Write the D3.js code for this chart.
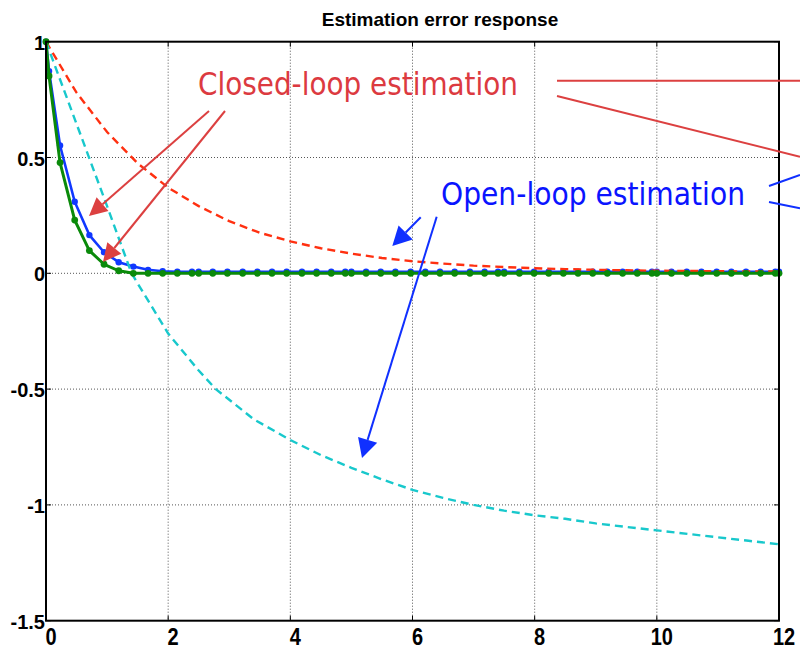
<!DOCTYPE html>
<html>
<head>
<meta charset="utf-8">
<script src="https://cdn.jsdelivr.net/npm/d3@7"></script>
<style>
  html, body { margin: 0; padding: 0; background: #fff; }
  svg { display: block; }
</style>
</head>
<body>
<svg id="chart" width="800" height="649"></svg>
<script>
// Sample times of the two simulated estimators (solid lines with markers)
const simT = [0, 0.05, 0.23, 0.47, 0.71, 0.95, 1.19, 1.43, 1.67, 1.91, 2.15, 2.39, 2.5,
  2.73, 2.97, 3.22, 3.46, 3.70, 3.94, 4.19, 4.43, 4.67, 4.90, 5.0,
  5.24, 5.48, 5.72, 5.97, 6.21, 6.45, 6.69, 6.94, 7.18, 7.40, 7.5,
  7.75, 7.99, 8.23, 8.47, 8.71, 8.95, 9.19, 9.44, 9.68, 9.92, 10.0,
  10.24, 10.49, 10.73, 10.98, 11.22, 11.46, 11.70, 11.94, 12.0];

const blueErr = [1, 0.873, 0.552, 0.309, 0.165, 0.091, 0.048, 0.029, 0.015, 0.009, 0.007, 0.007, 0.007,
  0.007, 0.007, 0.007, 0.007, 0.007, 0.007, 0.007, 0.007, 0.007, 0.007, 0.007,
  0.007, 0.007, 0.007, 0.007, 0.007, 0.007, 0.007, 0.007, 0.007, 0.007, 0.007,
  0.007, 0.007, 0.007, 0.007, 0.007, 0.007, 0.007, 0.007, 0.007, 0.007, 0.007,
  0.007, 0.007, 0.007, 0.007, 0.007, 0.007, 0.007, 0.007, 0.007];

const greenErr = [1, 0.852, 0.478, 0.230, 0.098, 0.039, 0.011, 0, 0, 0, 0, 0, 0,
  0, 0, 0, 0, 0, 0, 0, 0, 0, 0, 0,
  0, 0, 0, 0, 0, 0, 0, 0, 0, 0, 0,
  0, 0, 0, 0, 0, 0, 0, 0, 0, 0, 0,
  0, 0, 0, 0, 0, 0, 0, 0, 0];

// Dashed responses
const redT = [0, 0.5, 1, 1.5, 2, 2.5, 3, 3.5, 4, 4.5, 5, 5.5, 6, 6.5, 7, 7.5, 8, 8.5, 9, 9.5, 10, 10.5, 11, 11.5, 12];
const redErr = [1, 0.78, 0.61, 0.475, 0.37, 0.29, 0.225, 0.175, 0.138, 0.108, 0.085, 0.066, 0.052,
  0.042, 0.033, 0.027, 0.022, 0.018, 0.015, 0.013, 0.011, 0.010, 0.009, 0.008, 0.008];

const cyanT = [0, 0.5, 1, 1.4, 2, 2.5, 2.78, 3.4, 4, 4.5, 5, 5.5, 6, 6.5, 7, 7.5, 8, 8.5, 9, 9.5, 10, 10.5, 11, 11.5, 12];
const cyanErr = [1, 0.645, 0.29, 0, -0.26, -0.42, -0.5, -0.63, -0.72, -0.785, -0.84, -0.89, -0.935,
  -0.97, -1.0, -1.025, -1.045, -1.06, -1.08, -1.095, -1.11, -1.125, -1.14, -1.155, -1.17];

const xTicks = [0, 2, 4, 6, 8, 10, 12];
const yTicks = [-1.5, -1, -0.5, 0, 0.5, 1];
const yTickLabels = ["-1.5", "-1", "-0.5", "0", "0.5", "1"];
const title = "Estimation error response";

const svg = d3.select("#chart");
const plotL = 46, plotR = 779, plotT = 41.7, plotB = 620.7;
const x = d3.scaleLinear().domain([0, 12]).range([plotL, plotR]);
const y = d3.scaleLinear().domain([-1.5, 1]).range([plotB, plotT]);

// Grid (dotted)
const grid = svg.append("g");
grid.selectAll("line.gx").data(xTicks.filter(d => d > 0 && d < 12)).join("line")
  .attr("x1", d => x(d)).attr("x2", d => x(d)).attr("y1", plotT).attr("y2", plotB)
  .attr("stroke", "#555").attr("stroke-width", 1).attr("stroke-dasharray", "1,2");
grid.selectAll("line.gy").data(yTicks.filter(d => d > -1.5 && d < 1)).join("line")
  .attr("y1", d => y(d)).attr("y2", d => y(d)).attr("x1", plotL).attr("x2", plotR)
  .attr("stroke", "#555").attr("stroke-width", 1).attr("stroke-dasharray", "1,2");

// Inward tick marks on all sides
const tickLen = 5;
const ticks = svg.append("g").attr("stroke", "#000").attr("stroke-width", 1);
xTicks.forEach(d => {
  ticks.append("line").attr("x1", x(d)).attr("x2", x(d)).attr("y1", plotB).attr("y2", plotB - tickLen);
  ticks.append("line").attr("x1", x(d)).attr("x2", x(d)).attr("y1", plotT).attr("y2", plotT + tickLen);
});
yTicks.forEach(d => {
  ticks.append("line").attr("y1", y(d)).attr("y2", y(d)).attr("x1", plotL).attr("x2", plotL + tickLen);
  ticks.append("line").attr("y1", y(d)).attr("y2", y(d)).attr("x1", plotR).attr("x2", plotR - tickLen);
});

// Data lines
const lineGen = (ts, vs) => d3.line().x((d, i) => x(ts[i])).y(d => y(d))(vs);

const plot = svg.append("g");
plot.append("path").attr("d", lineGen(simT, blueErr))
  .attr("fill", "none").attr("stroke", "#1038ff").attr("stroke-width", 2.6).attr("stroke-linejoin", "round");
plot.selectAll("circle.b").data(blueErr).join("circle")
  .attr("cx", (d, i) => x(simT[i])).attr("cy", d => y(d)).attr("r", 3.2).attr("fill", "#1038ff");

plot.append("path").attr("d", lineGen(redT, redErr))
  .attr("fill", "none").attr("stroke", "#ff3010").attr("stroke-width", 2.4).attr("stroke-dasharray", "8,5");

plot.append("path").attr("d", lineGen(cyanT, cyanErr))
  .attr("fill", "none").attr("stroke", "#18c8cc").attr("stroke-width", 2.4).attr("stroke-dasharray", "8,5");

plot.append("path").attr("d", lineGen(simT, greenErr))
  .attr("fill", "none").attr("stroke", "#0a8a0a").attr("stroke-width", 3).attr("stroke-linejoin", "round");
plot.selectAll("circle.g").data(greenErr).join("circle")
  .attr("cx", (d, i) => x(simT[i])).attr("cy", d => y(d)).attr("r", 3.4).attr("fill", "#0a8a0a");

// Axes box
svg.append("rect").attr("x", plotL).attr("y", plotT).attr("width", plotR - plotL).attr("height", plotB - plotT)
  .attr("fill", "none").attr("stroke", "#000").attr("stroke-width", 2);

// Tick labels
const font = "'Liberation Sans', Arial, Helvetica, sans-serif";
svg.append("g").selectAll("text").data(yTicks).join("text")
  .attr("x", plotL - 1).attr("y", d => y(d) + 8)
  .attr("text-anchor", "end").attr("font-family", font).attr("font-weight", "bold")
  .attr("font-size", 20).text((d, i) => yTickLabels[i]);

svg.append("g").selectAll("text").data(xTicks).join("text")
  .attr("transform", d => `translate(${x(d) + 5},645) scale(1,1.22)`)
  .attr("text-anchor", "middle").attr("font-family", font).attr("font-weight", "bold")
  .attr("font-size", 20).text(d => d);

// Title
svg.append("text").attr("x", 440).attr("y", 26).attr("text-anchor", "middle")
  .attr("font-family", font).attr("font-weight", "bold").attr("font-size", 19).text(title);

// Annotations
const annoFont = "'DejaVu Sans', Verdana, Tahoma, sans-serif";
const redC = "#dc3a40", blueC = "#0a14ff";

function arrow(g, x1, y1, x2, y2, color, head, half) {
  const ang = Math.atan2(y2 - y1, x2 - x1);
  const bx = x2 - head * Math.cos(ang), by = y2 - head * Math.sin(ang);
  g.append("line").attr("x1", x1).attr("y1", y1).attr("x2", bx).attr("y2", by)
    .attr("stroke", color).attr("stroke-width", 2);
  const px = -Math.sin(ang) * half, py = Math.cos(ang) * half;
  g.append("path").attr("d", `M${x2},${y2}L${bx + px},${by + py}L${bx - px},${by - py}Z`).attr("fill", color);
}

const anno = svg.append("g");
anno.append("text").attr("x", 198).attr("y", 95).attr("fill", redC)
  .attr("font-family", annoFont).attr("font-size", 32)
  .attr("textLength", 320).attr("lengthAdjust", "spacingAndGlyphs").text("Closed-loop estimation");
arrow(anno, 209, 111, 89, 216, "#dc4040", 18, 9);
arrow(anno, 225, 111, 103, 262, "#dc4040", 18, 9);
anno.append("line").attr("x1", 557).attr("y1", 80.7).attr("x2", 800).attr("y2", 80.7).attr("stroke", "#dc4040").attr("stroke-width", 2);
anno.append("line").attr("x1", 557).attr("y1", 96).attr("x2", 800).attr("y2", 156.7).attr("stroke", "#dc4040").attr("stroke-width", 2);

anno.append("text").attr("x", 441).attr("y", 205).attr("fill", blueC)
  .attr("font-family", annoFont).attr("font-size", 32)
  .attr("textLength", 304).attr("lengthAdjust", "spacingAndGlyphs").text("Open-loop estimation");
arrow(anno, 420.7, 217.3, 392.3, 246, "#1030ff", 19, 10);
arrow(anno, 436.7, 216.7, 362, 458, "#1030ff", 19, 10);
anno.append("line").attr("x1", 769).attr("y1", 186).attr("x2", 800).attr("y2", 175).attr("stroke", "#1030ff").attr("stroke-width", 2);
anno.append("line").attr("x1", 769).attr("y1", 202).attr("x2", 800).attr("y2", 208.3).attr("stroke", "#1030ff").attr("stroke-width", 2);
</script>
</body>
</html>
